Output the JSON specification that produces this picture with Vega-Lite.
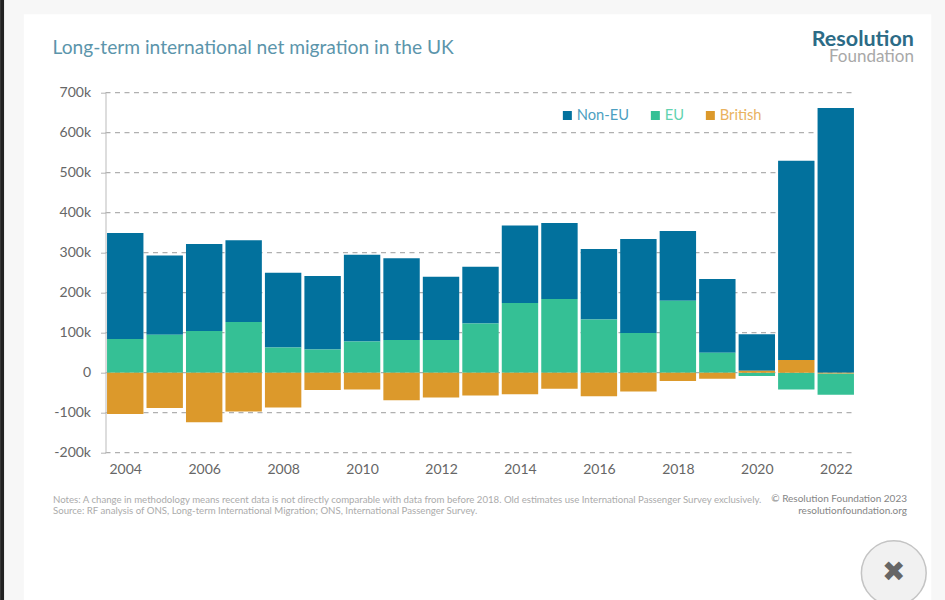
{
  "$schema": "https://vega.github.io/schema/vega-lite/v6.json",
  "width": 750,
  "height": 360,
  "autosize": "none",
  "padding": {"left": 105.5, "top": 92.7, "right": 89.5, "bottom": 147.3},
  "background": "#f7f7f7",
  "title": {
    "text": "Long-term international net migration in the UK",
    "anchor": "start",
    "frame": "group",
    "dx": -53,
    "offset": -58,
    "zindex": 1,
    "font": "Lato",
    "fontSize": 19.2,
    "fontWeight": "normal",
    "color": "#5b95ab"
  },
  "config": {
    "view": {"stroke": null},
    "font": "Lato",
    "scale": {"continuousPadding": 0},
    "axis": {"labelOverlap": false}
  },
  "layer": [
    {
      "data": {"values": [{"part": "edge"}]},
      "mark": {"type": "rect", "color": "#222222", "clip": false},
      "encoding": {
        "x": {
          "datum": 2000.83,
          "type": "quantitative",
          "scale": {"domain": [2003.5, 2022.5]},
          "axis": {
            "values": [2004, 2006, 2008, 2010, 2012, 2014, 2016, 2018, 2020, 2022],
            "format": "d",
            "domain": false,
            "ticks": false,
            "grid": false,
            "zindex": 1,
            "labelPadding": 10,
            "labelFontSize": 14,
            "labelColor": "#666666",
            "labelFlush": false,
            "labelOverlap": false,
            "title": [
              "Notes: A change in methodology means recent data is not directly comparable with data from before 2018. Old estimates use International Passenger Survey exclusively.",
              "Source: RF analysis of ONS, Long-term International Migration; ONS, International Passenger Survey."
            ],
            "titleAlign": "left",
            "titleAnchor": "start",
            "titleX": -53,
            "titleY": 50,
            "titleBaseline": "alphabetic",
            "titleFontSize": 9.65,
            "titleFontWeight": "normal",
            "titleColor": "#ababab",
            "titleLineHeight": 10.4
          }
        },
        "x2": {"datum": 2000.93},
        "y": {
          "datum": 932,
          "type": "quantitative",
          "scale": {"domain": [-200, 700]},
          "axis": {
            "values": [-200, -100, 0, 100, 200, 300, 400, 500, 600, 700],
            "tickCount": 10,
            "labelExpr": "datum.value === 0 ? '0' : datum.value + 'k'",
            "grid": false,
            "zindex": 1,
            "domainColor": "#bbbbbb",
            "tickColor": "#b5b5b5",
            "tickSize": 5,
            "labelPadding": 10,
            "labelFontSize": 14,
            "labelColor": "#666666",
            "labelFlush": false,
            "labelOverlap": false,
            "title": ["© Resolution Foundation 2023", "resolutionfoundation.org"],
            "titleAngle": 0,
            "titleAlign": "right",
            "titleBaseline": "alphabetic",
            "titleX": 801,
            "titleY": 409,
            "titleFontSize": 10,
            "titleFontWeight": "normal",
            "titleColor": "#858585",
            "titleLineHeight": 12
          }
        },
        "y2": {"datum": -600}
      }
    },
    {
      "data": {"values": [{"part": "panel"}]},
      "mark": {"type": "rect", "color": "#ffffff", "clip": false},
      "encoding": {
        "x": {"datum": 2001.43, "type": "quantitative", "scale": {"domain": [2003.5, 2022.5]}},
        "x2": {"datum": 2024.42},
        "y": {"datum": 896, "type": "quantitative", "scale": {"domain": [-200, 700]}},
        "y2": {"datum": -600}
      }
    },
    {
      "data": {"values": [{"tick": -200}, {"tick": -100}, {"tick": 0}, {"tick": 100}, {"tick": 200}, {"tick": 300}, {"tick": 400}, {"tick": 500}, {"tick": 600}, {"tick": 700}]},
      "mark": {"type": "rule", "color": "#b0b0b0", "strokeDash": [5, 4.5], "strokeWidth": 1.3},
      "encoding": {
        "x": {"datum": 2003.5, "type": "quantitative", "scale": {"domain": [2003.5, 2022.5]}},
        "x2": {"datum": 2022.45},
        "y": {"field": "tick", "type": "quantitative", "scale": {"domain": [-200, 700]}}
      }
    },
    {
      "data": {
        "values": [
          {"year": 2004, "series": "Non-EU", "value": 265}, {"year": 2004, "series": "EU", "value": 84}, {"year": 2004, "series": "British", "value": -103},
          {"year": 2005, "series": "Non-EU", "value": 198}, {"year": 2005, "series": "EU", "value": 95}, {"year": 2005, "series": "British", "value": -88},
          {"year": 2006, "series": "Non-EU", "value": 218}, {"year": 2006, "series": "EU", "value": 104}, {"year": 2006, "series": "British", "value": -124},
          {"year": 2007, "series": "Non-EU", "value": 204}, {"year": 2007, "series": "EU", "value": 127}, {"year": 2007, "series": "British", "value": -97},
          {"year": 2008, "series": "Non-EU", "value": 187}, {"year": 2008, "series": "EU", "value": 63}, {"year": 2008, "series": "British", "value": -87},
          {"year": 2009, "series": "Non-EU", "value": 184}, {"year": 2009, "series": "EU", "value": 58}, {"year": 2009, "series": "British", "value": -43},
          {"year": 2010, "series": "Non-EU", "value": 217}, {"year": 2010, "series": "EU", "value": 78}, {"year": 2010, "series": "British", "value": -42},
          {"year": 2011, "series": "Non-EU", "value": 204}, {"year": 2011, "series": "EU", "value": 82}, {"year": 2011, "series": "British", "value": -69},
          {"year": 2012, "series": "Non-EU", "value": 158}, {"year": 2012, "series": "EU", "value": 82}, {"year": 2012, "series": "British", "value": -62},
          {"year": 2013, "series": "Non-EU", "value": 142}, {"year": 2013, "series": "EU", "value": 123}, {"year": 2013, "series": "British", "value": -57},
          {"year": 2014, "series": "Non-EU", "value": 194}, {"year": 2014, "series": "EU", "value": 174}, {"year": 2014, "series": "British", "value": -54},
          {"year": 2015, "series": "Non-EU", "value": 190}, {"year": 2015, "series": "EU", "value": 184}, {"year": 2015, "series": "British", "value": -40},
          {"year": 2016, "series": "Non-EU", "value": 176}, {"year": 2016, "series": "EU", "value": 133}, {"year": 2016, "series": "British", "value": -59},
          {"year": 2017, "series": "Non-EU", "value": 235}, {"year": 2017, "series": "EU", "value": 99}, {"year": 2017, "series": "British", "value": -47},
          {"year": 2018, "series": "Non-EU", "value": 174}, {"year": 2018, "series": "EU", "value": 180}, {"year": 2018, "series": "British", "value": -21},
          {"year": 2019, "series": "Non-EU", "value": 184}, {"year": 2019, "series": "EU", "value": 50}, {"year": 2019, "series": "British", "value": -15},
          {"year": 2020, "series": "Non-EU", "value": 91}, {"year": 2020, "series": "EU", "value": -8}, {"year": 2020, "series": "British", "value": 5},
          {"year": 2021, "series": "Non-EU", "value": 498}, {"year": 2021, "series": "EU", "value": -42}, {"year": 2021, "series": "British", "value": 32},
          {"year": 2022, "series": "Non-EU", "value": 662}, {"year": 2022, "series": "EU", "value": -53}, {"year": 2022, "series": "British", "value": -2}
        ]
      },
      "mark": {"type": "bar", "orient": "vertical", "size": 36.4},
      "encoding": {
        "x": {"field": "year", "type": "quantitative", "scale": {"domain": [2003.5, 2022.5]}},
        "y": {"field": "value", "type": "quantitative", "stack": "zero", "scale": {"domain": [-200, 700]}},
        "color": {
          "field": "series",
          "type": "nominal",
          "scale": {"domain": ["Non-EU", "EU", "British"], "range": ["#02719d", "#35c095", "#dc992b"]},
          "legend": {
            "title": null,
            "orient": "none",
            "direction": "horizontal",
            "legendX": 454.5,
            "legendY": 15,
            "symbolType": "square",
            "symbolSize": 81,
            "symbolStrokeWidth": 0,
            "symbolOpacity": 1,
            "columnPadding": 19,
            "labelOffset": 2,
            "labelFontSize": 14.7,
            "labelColor": {"expr": "datum.label === 'Non-EU' ? '#4d9fc1' : datum.label === 'EU' ? '#62d3b0' : '#e9b25f'"},
            "zindex": 1
          }
        },
        "order": {"field": "series", "sort": "ascending"}
      }
    },
    {
      "data": {"values": [{"label": "Resolution"}]},
      "mark": {"type": "text", "align": "right", "baseline": "alphabetic", "font": "Lato", "fontWeight": "bold", "fontSize": 21.5, "color": "#2c6b86"},
      "encoding": {
        "x": {"datum": 2023.98, "type": "quantitative", "scale": {"domain": [2003.5, 2022.5]}},
        "y": {"datum": 817, "type": "quantitative", "scale": {"domain": [-200, 700]}},
        "text": {"field": "label"}
      }
    },
    {
      "data": {"values": [{"label": "Foundation"}]},
      "mark": {"type": "text", "align": "right", "baseline": "alphabetic", "font": "Lato", "fontSize": 17, "color": "#a8a8a8"},
      "encoding": {
        "x": {"datum": 2023.98, "type": "quantitative", "scale": {"domain": [2003.5, 2022.5]}},
        "y": {"datum": 777, "type": "quantitative", "scale": {"domain": [-200, 700]}},
        "text": {"field": "label"}
      }
    },
    {
      "data": {"values": [{"button": "close"}]},
      "mark": {"type": "point", "shape": "circle", "filled": true, "size": 4200, "fill": "#f1f1f1", "stroke": "#c4c4c4", "strokeWidth": 1.5, "opacity": 1},
      "encoding": {
        "x": {"datum": 2023.47, "type": "quantitative", "scale": {"domain": [2003.5, 2022.5]}},
        "y": {"datum": -501, "type": "quantitative", "scale": {"domain": [-200, 700]}}
      }
    },
    {
      "data": {"values": [{"label": "✖"}]},
      "mark": {"type": "text", "align": "center", "baseline": "middle", "font": "DejaVu Sans", "fontSize": 28, "color": "#666666"},
      "encoding": {
        "x": {"datum": 2023.47, "type": "quantitative", "scale": {"domain": [2003.5, 2022.5]}},
        "y": {"datum": -501, "type": "quantitative", "scale": {"domain": [-200, 700]}},
        "text": {"field": "label"}
      }
    }
  ]
}
